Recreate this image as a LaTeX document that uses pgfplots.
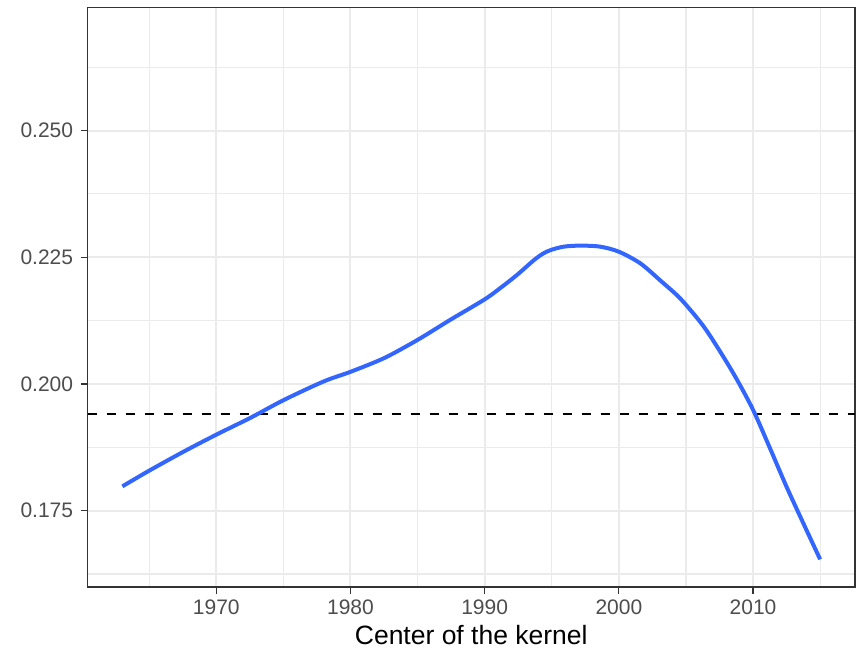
\documentclass[border=0pt]{standalone}
\usepackage{pgfplots}
\pgfplotsset{compat=1.18}
\usepackage{fontspec}
\setmainfont{Liberation Sans}
\definecolor{gridc}{HTML}{EBEBEB}
\definecolor{darkc}{HTML}{333333}
\definecolor{tickc}{HTML}{4D4D4D}
\definecolor{smoothblue}{HTML}{3366FF}
\begin{document}
\begin{tikzpicture}
\useasboundingbox (-43.75pt,-32.5pt) rectangle (384.25pt,293.5pt);
\begin{axis}[
  at={(0,0)}, anchor=south west,
  scale only axis,
  width=383.75pt, height=289.75pt,
  xmin=1960.4, xmax=2017.6,
  ymin=0.15994, ymax=0.27429,
  xtick={1970,1980,1990,2000,2010},
  xticklabels={1970,1980,1990,2000,2010},
  ytick={0.175,0.2,0.225,0.25},
  yticklabels={0.175,0.200,0.225,0.250},
  minor xtick={1965,1975,1985,1995,2005,2015},
  minor ytick={0.1625,0.1875,0.2125,0.2375,0.2625},
  grid=both,
  major grid style={color=gridc, line width=1pt},
  minor grid style={color=gridc, line width=0.55pt},
  minor tick length=0pt,
  major tick length=3.5pt,
  tick align=outside,
  xtick pos=bottom, ytick pos=left,
  tick style={color=darkc, line width=0.6pt},
  axis line style={color=darkc, line width=0.7pt},
  xticklabel style={font=\fontsize{10.5}{12}\selectfont, text=tickc, inner sep=0pt, anchor=base, yshift=-10.5pt},
  yticklabel style={font=\fontsize{10.5}{12}\selectfont, text=tickc, inner sep=0pt, anchor=east, xshift=-3.5pt},
  xlabel={Center of the kernel},
  xlabel style={font=\fontsize{13.25}{15}\selectfont, at={(axis description cs:0.5,0)}, anchor=base, inner sep=0pt, yshift=-29pt},
  clip=true,
]
\addplot [black, line width=1.1pt, dash pattern=on 4.5pt off 5pt] coordinates {(1960.4,0.19402) (2017.6,0.19402)};
\addplot [smoothblue, line width=2pt, smooth] coordinates {
(1963,0.1798) (1965,0.1829) (1967.6,0.1867) (1970,0.1900) (1972.6,0.1934)
(1975,0.1968) (1978,0.2005) (1980,0.2024) (1982.5,0.2051) (1985,0.2087)
(1987.4,0.2126) (1990,0.2167) (1991.2,0.2190) (1992.4,0.2215) (1993.7,0.2245)
(1994.4,0.2258) (1995,0.2265) (1995.9,0.2271) (1997.1,0.2273) (1998.6,0.2271)
(2000,0.2261) (2001.6,0.2238) (2003.1,0.2204) (2004.6,0.2168) (2006.25,0.2116)
(2007.5,0.2066) (2008.75,0.2011) (2010,0.1949) (2011.25,0.1874) (2012.5,0.1797)
(2013.75,0.1725) (2015,0.1654)
};
\end{axis}
\end{tikzpicture}
\end{document}
